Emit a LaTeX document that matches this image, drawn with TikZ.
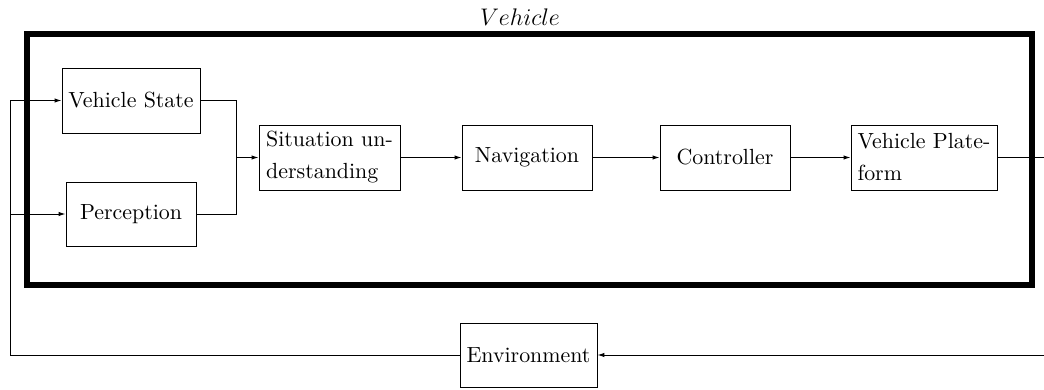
\documentclass[tikz,border=0pt]{standalone}
\usetikzlibrary{arrows.meta}
\begin{document}
\begin{tikzpicture}[x=0.5pt,y=-0.5pt,
  blk/.style={draw,minimum height=32.5pt,inner sep=2pt,align=left,font=\fontsize{10.95}{16}\selectfont},
  arr/.style={-{Latex[length=3.5pt,width=2.2pt]}},
  ln/.style={line width=0.5pt}]
\useasboundingbox (0,0) rectangle (1044,390);
\node[font=\fontsize{11.5}{14}\selectfont] (title) at (520,17) {$Vehicle$};
\draw[line width=3pt] (27,34.5) rectangle (1031.5,285);
\node[blk,minimum width=69pt] (vs) at (131,100.5) {Vehicle State};
\node[blk,minimum width=65pt,minimum height=32pt] (per) at (131,214) {Perception};
\node[blk,minimum width=70.5pt] (sit) at (329.5,157.5) {Situation un-\\derstanding};
\node[blk,minimum width=65pt] (nav) at (527,157.5) {Navigation};
\node[blk,minimum width=65pt] (ctl) at (725,157.5) {Controller};
\node[blk,minimum width=73pt] (vp) at (924,157.5) {Vehicle Plate-\\form};
\node[blk,minimum width=68.5pt,minimum height=32pt] (env) at (528.5,355) {Environment};
\coordinate (m) at (236,157.5);
\coordinate (L1) at (10,100.5);
\coordinate (L2) at (10,214);
\coordinate (R1) at (1044,157.5);
\coordinate (R2) at (1044,355);
\draw[ln] (vs.east) -| (m);
\draw[ln] (per.east) -| (m);
\draw[ln,arr] (m) -- (sit.west);
\draw[ln,arr] (sit) -- (nav);
\draw[ln,arr] (nav) -- (ctl);
\draw[ln,arr] (ctl) -- (vp);
\draw[ln] (vp.east) -- (R1);
\draw[ln,arr] (R2) -- (env.east);
\draw[ln] (env.west) -| (L1);
\draw[ln,arr] (L1) -- (vs.west);
\draw[ln,arr] (L2) -- (per.west);
\end{tikzpicture}
\end{document}
